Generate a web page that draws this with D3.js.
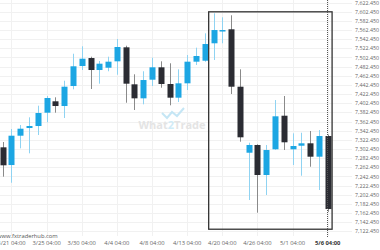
<!DOCTYPE html>
<html lang="en">
<head>
<meta charset="utf-8">
<title>Candles</title>
<script src="https://cdn.jsdelivr.net/npm/d3@7"></script>
<style>
body { margin: 0; background: #fff; }
svg { display: block; font-family: "Open Sans", sans-serif; }
.tick-y { font-size: 5.8px; fill: #666; }
.tick-x { font-size: 5.8px; fill: #666; text-anchor: middle; }
</style>
</head>
<body>
<script>
// candle data (open, high, low, close)
var opens  = [7306.0, 7267.3, 7331.4, 7348.2, 7352.6, 7381.7, 7406.6, 7396.3, 7440.0, 7483.7,
              7501.2, 7475.0, 7480.0, 7494.0, 7524.6, 7443.7, 7413.1, 7453.8, 7480.9, 7444.4,
              7414.5, 7445.9, 7493.2, 7495.3, 7533.4, 7560.3, 7564.0, 7438.5, 7294.2, 7311.1,
              7245.5, 7301.7, 7375.1, 7301.7, 7309.5, 7314.8, 7285.5, 7330.7];
var highs  = [7317.6, 7346.0, 7354.8, 7371.6, 7397.0, 7418.2, 7415.3, 7451.6, 7510.6, 7526.8,
              7504.1, 7494.7, 7504.1, 7542.8, 7528.1, 7465.6, 7472.2, 7501.9, 7494.0, 7489.7,
              7476.5, 7507.8, 7523.8, 7555.2, 7598.9, 7590.2, 7594.6, 7476.5, 7316.1, 7312.6,
              7311.1, 7409.4, 7418.2, 7336.6, 7337.9, 7341.7, 7343.8, 7334.0];
var lows   = [7241.8, 7228.6, 7303.8, 7292.9, 7332.9, 7360.7, 7381.7, 7370.1, 7432.8, 7475.0,
              7433.5, 7445.1, 7472.2, 7464.7, 7403.5, 7387.6, 7400.0, 7440.0, 7436.3, 7397.8,
              7405.0, 7431.3, 7486.0, 7493.0, 7496.9, 7533.4, 7422.5, 7318.3, 7190.8, 7163.1,
              7201.8, 7300.5, 7300.1, 7267.3, 7243.9, 7263.6, 7212.7, 7165.0];
var closes = [7266.7, 7331.4, 7346.7, 7352.6, 7381.0, 7413.8, 7396.3, 7438.5, 7483.1, 7499.7,
              7475.0, 7488.8, 7493.2, 7525.3, 7445.1, 7413.1, 7453.1, 7480.9, 7444.4, 7414.5,
              7445.9, 7493.2, 7505.6, 7531.8, 7562.4, 7562.4, 7438.5, 7327.9, 7311.1, 7245.5,
              7300.1, 7373.8, 7317.0, 7308.9, 7314.8, 7285.5, 7330.7, 7171.1];

// x tick labels (every 4th candle)
var tickIndex  = [1, 5, 9, 13, 17, 21, 25, 29, 33, 37];
var tickLabels = ['3/21 04:00', '3/25 04:00', '3/30 04:00', '4/4 04:00', '4/8 04:00',
                  '4/13 04:00', '4/20 04:00', '4/26 04:00', '5/1 04:00', '5/6 04:00'];

// y ticks
var priceTicks = d3.range(7122.45, 7630, 20);

// pattern box (candle index span, price span)
var boxIndex = [23.45, 37.5];
var boxPrice = [7127.0, 7602.2];
var nowIndex = 36.95;

var w = 380, h = 250;

var x = d3.scaleLinear().domain([0, 37]).range([2.7, 327.7]);
var y = d3.scaleLinear().domain([7122.45, 7622.45]).range([231.3, 2.55]);

var svg = d3.select('body').append('svg')
    .attr('width', w)
    .attr('height', h);

// horizontal grid
svg.selectAll('.hgrid')
    .data(priceTicks)
    .enter()
    .append('line')
    .attr('x1', 0)
    .attr('x2', 352)
    .attr('y1', function(d) { return Math.round(y(d)) + 0.5; })
    .attr('y2', function(d) { return Math.round(y(d)) + 0.5; })
    .attr('stroke', '#f1f1f1');

// vertical grid
svg.selectAll('.vgrid')
    .data(tickIndex)
    .enter()
    .append('line')
    .attr('x1', function(d) { return Math.round(x(d)) + 0.5; })
    .attr('x2', function(d) { return Math.round(x(d)) + 0.5; })
    .attr('y1', 0)
    .attr('y2', 236)
    .attr('stroke', '#f1f1f1');

// y labels
svg.selectAll('.tick-y')
    .data(priceTicks)
    .enter()
    .append('text')
    .attr('class', 'tick-y')
    .attr('x', 355)
    .attr('y', function(d) { return y(d) + 2.1; })
    .attr('textLength', 24)
    .attr('lengthAdjust', 'spacingAndGlyphs')
    .text(d3.format(',.3f'));

// x labels
svg.selectAll('.tick-x')
    .data(tickIndex)
    .enter()
    .append('text')
    .attr('class', 'tick-x')
    .attr('x', function(d) { return x(d); })
    .attr('y', 245)
    .style('font-weight', function(d, i) { return i == tickIndex.length - 1 ? 'bold' : 'normal'; })
    .style('fill', function(d, i) { return i == tickIndex.length - 1 ? '#333' : '#666'; })
    .text(function(d, i) { return tickLabels[i]; });

// site watermark
svg.append('text')
    .attr('x', -3)
    .attr('y', 238)
    .style('font-size', '5.8px')
    .style('fill', '#555')
    .text('www.fxtraderhub.com');

// center watermark
var wm = svg.append('g').attr('opacity', 0.9);
wm.append('polyline')
    .attr('points', '162,113 167,118 172,112 177,116 184,108')
    .attr('fill', 'none')
    .attr('stroke', '#bfe4f5')
    .attr('stroke-width', 2);
var wmText = wm.append('text')
    .attr('x', 172)
    .attr('y', 129)
    .attr('text-anchor', 'middle')
    .style('font-size', '11px')
    .style('font-weight', 'bold')
    .style('fill', '#e2e2e2');
wmText.append('tspan').text('What');
wmText.append('tspan').style('fill', '#cdeaf7').text('2');
wmText.append('tspan').text('Trade');

// candles
var candles = d3.range(opens.length).map(function(i) {
    return { i: i, o: opens[i], h: highs[i], l: lows[i], c: closes[i] };
});

var g = svg.append('g');

g.selectAll('.wick')
    .data(candles)
    .enter()
    .append('line')
    .attr('x1', function(d) { return Math.round(x(d.i)) + 0.5; })
    .attr('x2', function(d) { return Math.round(x(d.i)) + 0.5; })
    .attr('y1', function(d) { return y(d.h); })
    .attr('y2', function(d) { return y(d.l); })
    .attr('stroke', function(d) { return d.c >= d.o ? '#8fd3f2' : '#8a8a8a'; })
    .attr('stroke-width', 1);

g.selectAll('.body')
    .data(candles)
    .enter()
    .append('rect')
    .attr('x', function(d) { return Math.round(x(d.i)) - 2.5; })
    .attr('width', 6)
    .attr('y', function(d) { return y(Math.max(d.o, d.c)); })
    .attr('height', function(d) { return Math.max(1.5, Math.abs(y(d.o) - y(d.c))); })
    .attr('fill', function(d) { return d.c >= d.o ? '#1ca6e3' : '#2b2c33'; });

// pattern box
svg.append('rect')
    .attr('x', x(boxIndex[0]))
    .attr('y', y(boxPrice[1]))
    .attr('width', x(boxIndex[1]) - x(boxIndex[0]))
    .attr('height', y(boxPrice[0]) - y(boxPrice[1]))
    .attr('fill', 'none')
    .attr('stroke', '#333')
    .attr('stroke-width', 1.3);

// current time line
svg.append('line')
    .attr('x1', Math.round(x(nowIndex)) + 0.5)
    .attr('x2', Math.round(x(nowIndex)) + 0.5)
    .attr('y1', 0)
    .attr('y2', 238)
    .attr('stroke', '#555')
    .attr('stroke-dasharray', '1,1');
</script>
</body>
</html>
